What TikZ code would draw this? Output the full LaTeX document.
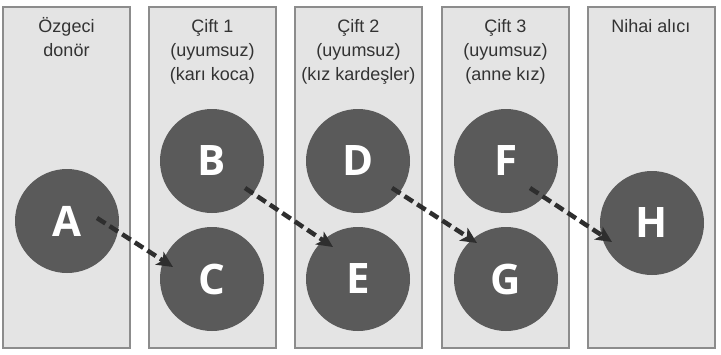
\documentclass[tikz,border=0pt]{standalone}
\usepackage{fontspec}
\setmainfont{Liberation Sans}
\newfontfamily\letterfont{Open Sans}
\usetikzlibrary{arrows.meta,calc}
\definecolor{panelfill}{HTML}{E4E4E4}
\definecolor{paneldraw}{HTML}{8C8C8C}
\definecolor{discfill}{HTML}{5A5A5A}
\definecolor{arrowcol}{HTML}{2E2E2E}
\definecolor{textcol}{HTML}{333333}
\begin{document}
\begin{tikzpicture}[x=1pt,y=-1pt,
  panel/.style={draw=paneldraw,fill=panelfill,line width=1.1pt},
  head/.style={anchor=north,align=center,inner sep=0pt,text=textcol,font=\fontsize{18}{24}\selectfont},
  disc/.style={circle,fill=discfill,minimum size=104pt,inner sep=0pt,text=white,font=\letterfont\bfseries\fontsize{42}{42}\selectfont},
  arr/.style={draw=arrowcol,line width=4.5pt,dash pattern=on 10pt off 5pt,-{Stealth[length=16pt,width=15pt,inset=4pt]}}]
\useasboundingbox (0,0) rectangle (721,354);
\fill[white] (0,0) rectangle (721,354);
\foreach \xl in {3,149,295,442,588}{
  \draw[panel] (\xl,7) rectangle ++(127,341);
}
\node[head] (h1) at (66.5,15.2) {\strut Özgeci\\donör};
\node[head] (h2) at (212.5,15.2) {\strut Çift 1\\(uyumsuz)\\(karı koca)};
\node[head] (h3) at (358.5,15.2) {\strut Çift 2\\(uyumsuz)\\(kız kardeşler)};
\node[head] (h4) at (505.5,15.2) {\strut Çift 3\\(uyumsuz)\\(anne kız)};
\node[head] (h5) at (651,15.2) {\strut Nihai alıcı};
\node[disc] (A) at (67,221) {A};
\node[disc] (B) at (212,161) {B};
\node[disc] (C) at (212,279) {C};
\node[disc] (D) at (358,161) {D};
\node[disc] (E) at (358,279) {E};
\node[disc] (F) at (506,161) {F};
\node[disc] (G) at (506,279) {G};
\node[disc] (H) at (652,223) {H};
\draw[arr] ($(A)+(30,-3)$) -- ($(C)+(-39,-12)$);
\draw[arr] ($(B)+(33,27)$) -- ($(E)+(-25,-32)$);
\draw[arr] ($(D)+(34,27)$) -- ($(G)+(-29,-36)$);
\draw[arr] ($(F)+(24,27)$) -- ($(H)+(-40,19)$);
\end{tikzpicture}
\end{document}
